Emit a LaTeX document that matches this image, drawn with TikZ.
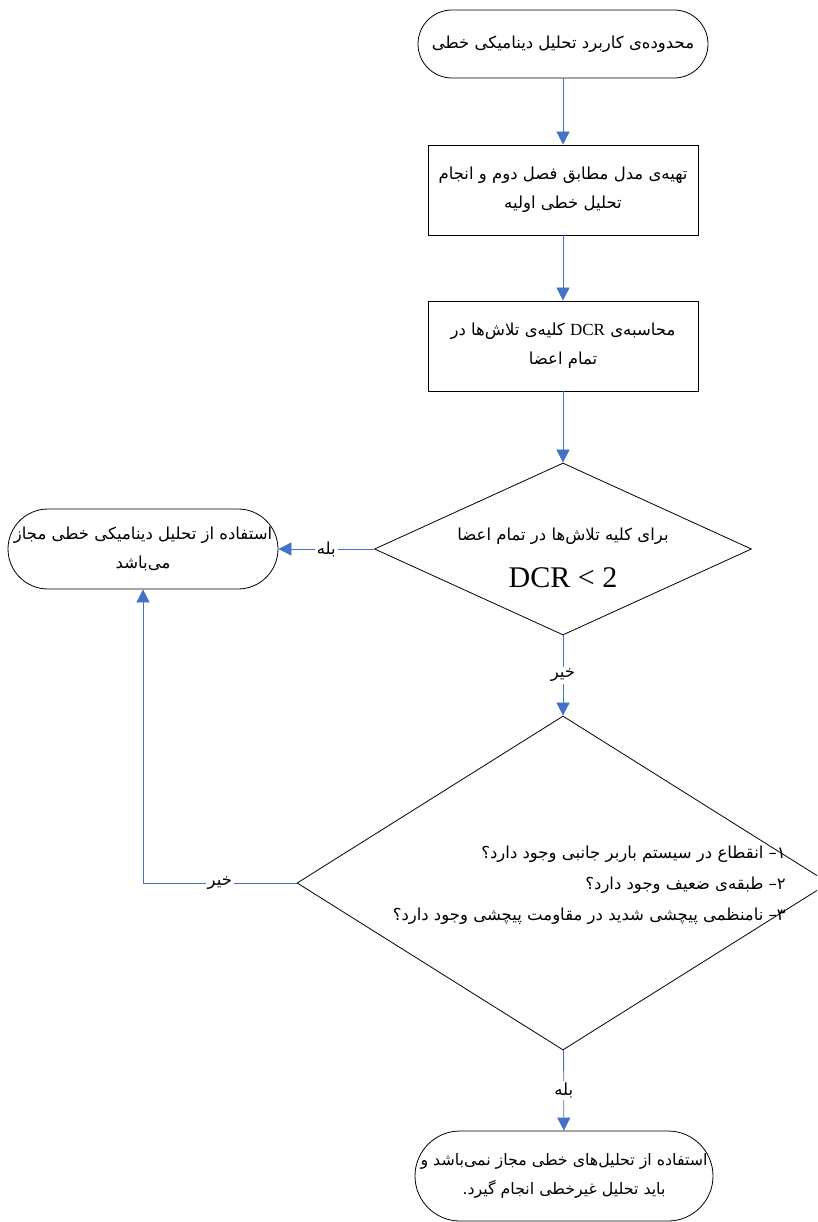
\documentclass[tikz,border=0pt]{standalone}
\usepackage{fontspec}
\setmainfont{Liberation Serif}
\newfontfamily\arabicfont[Script=Arabic]{DejaVu Sans}
\TeXXeTstate=1
\usetikzlibrary{arrows.meta,shapes.geometric}
\definecolor{conncol}{RGB}{68,114,196}
\newcommand{\fa}[1]{{\arabicfont\beginR #1\endR}}
\begin{document}
\begin{tikzpicture}[x=1pt,y=-1pt,
  txt/.style={font=\fontsize{16.5}{29}\selectfont},
  term/.style={draw, line width=0.8pt, rectangle, inner sep=0pt, align=center, txt},
  proc/.style={draw, line width=0.8pt, rectangle, inner sep=0pt, align=center, minimum width=270pt, minimum height=90pt, txt},
  dec/.style={draw, line width=0.8pt, diamond, inner sep=0pt},
  conn/.style={draw=conncol, line width=0.8pt, -{Triangle[width=13pt,length=13pt,fill=conncol]}},
  lbl/.style={fill=white, inner sep=2pt, txt}]
\clip (0,0) rectangle (817,1222);
\node[term, minimum width=290pt, minimum height=68pt, rounded corners=34pt] (start) at (563,44) {\fa{محدوده‌ی کاربرد تحلیل دینامیکی خطی}};
\node[proc] (model) at (563,190) {\fa{تهیه‌ی مدل مطابق فصل دوم و انجام}\\\fa{تحلیل خطی اولیه}};
\node[proc] (dcr) at (563,346) {\fa{محاسبه‌ی \beginL{\rmfamily\fontsize{17}{29}\selectfont DCR}\endL{} کلیه‌ی تلاش‌ها در}\\\fa{تمام اعضا}};
\node[dec, minimum width=377pt, minimum height=172pt] (d1) at (563,549) {};
\node[txt] (d1t) at (563,536) {\fa{برای کلیه تلاش‌ها در تمام اعضا}};
\node[font=\fontsize{30}{32}\selectfont] (d1m) at (563,578) {DCR < 2};
\node[term, minimum width=270pt, minimum height=80pt, rounded corners=40pt] (yes1) at (143,549) {\fa{استفاده از تحلیل دینامیکی خطی مجاز}\\\fa{می‌باشد}};
\node[dec, minimum width=532pt, minimum height=334pt] (d2) at (563,883) {};
\node[align=right, anchor=east, inner sep=0pt, font=\fontsize{16.5}{31}\selectfont] (d2t) at (786,885) {\fa{۱– انقطاع در سیستم باربر جانبی وجود دارد؟}\\\fa{۲– طبقه‌ی ضعیف وجود دارد؟}\\\fa{۳– نامنظمی پیچشی شدید در مقاومت پیچشی وجود دارد؟}};
\node[term, minimum width=298pt, minimum height=90pt, rounded corners=45pt, font=\fontsize{15.8}{29}\selectfont] (no) at (564,1176) {\fa{استفاده از تحلیل‌های خطی مجاز نمی‌باشد و}\\\fa{باید تحلیل غیرخطی انجام گیرد.}};
\draw[conn] (start) -- (model);
\draw[conn] (model) -- (dcr);
\draw[conn] (dcr) -- (d1);
\draw[conn] (d1) -- node[lbl]{\fa{خیر}} (d2);
\draw[conn] (d1) -- node[lbl]{\fa{بله}} (yes1);
\draw[conn] (d2.west) -| node[lbl, pos=0.25]{\fa{خیر}} (yes1.south);
\draw[conn] (d2) -- node[lbl]{\fa{بله}} (no);
\end{tikzpicture}
\end{document}
